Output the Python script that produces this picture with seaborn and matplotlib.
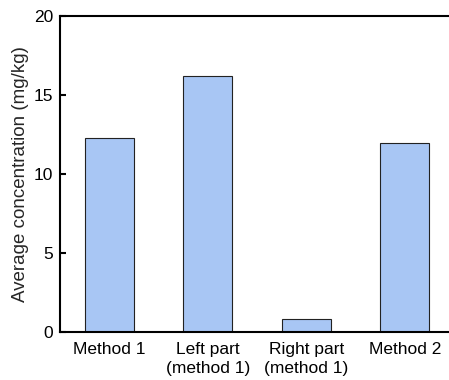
import matplotlib
matplotlib.use("Agg")
import matplotlib.pyplot as plt
import seaborn as sns
import pandas as pd

categories = ["Method 1", "Left part\n(method 1)", "Right part\n(method 1)", "Method 2"]
values = [12.25, 16.2, 0.8, 11.95]
yticks = [0, 5, 10, 15, 20]

sns.set_style("white")
plt.rcParams['font.family'] = ['Liberation Sans', 'DejaVu Sans']

df = pd.DataFrame({"cat": categories, "val": values})

fig = plt.figure(figsize=(4.49, 3.80), dpi=100)
ax = fig.add_axes([60/449, 48/380, 394/449, 316/380])
sns.barplot(data=df, x="cat", y="val", color="#A8C6F4", saturation=1,
            width=0.5, edgecolor="#222222", linewidth=0.8, ax=ax)
ax.set_xlim(-0.5, 3.5)
ax.set_ylim(0, 20)
ax.set_yticks(yticks)
ax.set_xlabel("")
ax.set_ylabel("Average concentration (mg/kg)", fontsize=13.5, labelpad=3)
for s in ["left", "bottom", "top"]:
    ax.spines[s].set_visible(True)
    ax.spines[s].set_linewidth(1.5)
    ax.spines[s].set_color("black")
ax.spines["right"].set_visible(False)
ax.tick_params(axis="both", direction="in", length=4, width=1.5, labelsize=12.5,
               colors="black", left=True, bottom=True, pad=5)
ax.tick_params(axis="x", pad=7)
for lab in ax.get_xticklabels():
    lab.set_linespacing(1.35)
fig.savefig("out.png", dpi=100)
